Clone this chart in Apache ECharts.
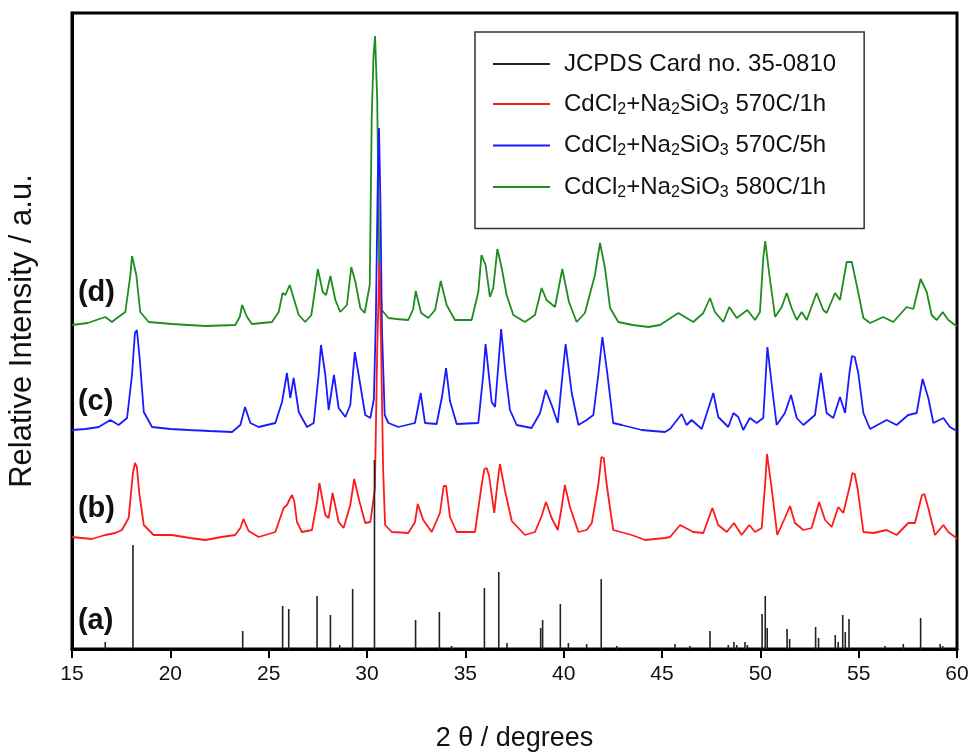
<!DOCTYPE html>
<html>
<head>
<meta charset="utf-8">
<script src="https://cdn.jsdelivr.net/npm/echarts@6/dist/echarts.min.js"></script>
<style>html,body{margin:0;padding:0;background:#fff}#c{width:972px;height:755px}</style>
</head>
<body>
<div id="c"></div>
<script>
// 2θ (degrees) vs relative intensity (arbitrary units, traces offset vertically)
const seriesNames = ['JCPDS Card no. 35-0810', 'CdCl2+Na2SiO3 570C/1h', 'CdCl2+Na2SiO3 570C/5h', 'CdCl2+Na2SiO3 580C/1h'];
const traceLabels = ['(a)', '(b)', '(c)', '(d)'];

// (a) JCPDS reference sticks [2θ, intensity]
const sticksA = [
  [16.69,7],[18.10,104],[23.68,18],[25.71,43],[26.02,40],[27.46,53],[28.14,34],[28.61,4],[29.27,60],
  [30.38,189],[32.47,29],[33.68,37],[34.30,3],[35.97,61],[36.70,77],[37.12,6],[38.83,21],[38.93,29],
  [39.83,45],[40.24,6],[41.17,5],[41.91,70],[42.70,3],[45.66,5],[46.42,3],[47.44,18],[48.37,4],
  [48.66,7],[48.80,4],[49.22,7],[49.34,4],[50.09,35],[50.25,53],[50.35,21],[51.36,20],[51.49,10],
  [52.81,22],[52.96,11],[53.81,14],[53.96,7],[54.19,34],[54.32,17],[54.51,30],[56.34,3],[57.27,5],
  [58.15,31],[59.14,5],[59.27,3]
];

// (b) 570C/1h
const traceB = [
  [15.0,112],[16.0,110],[16.69,114],[17.2,116],[17.54,119],[17.88,131],[18.02,160],[18.10,176],[18.20,186],[18.30,182],[18.42,156],[18.65,124],
  [19.15,114],[20.08,114],[21.0,111],[21.78,109],[22.6,112],[23.30,114],[23.56,121],[23.72,130],[23.82,130],[23.98,118],[24.49,112],
  [25.34,117],[25.76,141],[25.93,144],[26.05,149],[26.19,154],[26.30,148],[26.44,127],[26.69,117],[27.20,119],[27.46,147],[27.58,166],[27.66,168],[27.88,134],
  [28.05,131],[28.25,156],[28.34,158],[28.56,127],[28.81,121],[29.15,144],[29.35,170],[29.45,170],[29.61,148],[29.91,126],[30.17,127],[30.40,160],
  [30.52,300],[30.63,387],[30.72,300],[30.82,180],[30.92,124],[31.26,117],[32.10,116],[32.44,127],[32.58,145],[32.68,145],[32.86,129],
  [33.29,117],[33.71,136],[33.90,163],[34.02,163],[34.22,132],[34.56,117],[35.49,117],[35.83,164],[35.97,180],[36.08,181],[36.20,174],[36.47,136],
  [36.64,167],[36.76,185],[36.86,184],[37.02,158],[37.36,128],[38.03,114],[38.54,117],[38.88,133],[39.10,147],[39.39,131],[39.70,119],
  [39.90,142],[40.06,164],[40.16,164],[40.32,142],[40.75,117],[41.17,119],[41.43,126],[41.76,164],[41.92,192],[42.04,191],[42.19,164],[42.52,119],
  [43.46,114],[44.14,109],[45.15,111],[45.41,112],[45.92,124],[46.59,117],[47.10,116],[47.56,141],[47.86,124],[48.29,117],
  [48.66,126],[49.05,114],[49.44,124],[49.73,117],[50.07,121],[50.24,164],[50.34,195],[50.44,194],[50.58,160],[50.86,114],[51.25,131],
  [51.51,143],[51.76,126],[52.19,119],[52.61,121],[52.99,147],[53.29,129],[53.63,122],[53.96,142],[54.22,136],[54.56,164],
  [54.68,176],[54.80,175],[54.95,160],[55.24,117],[55.75,116],[56.42,119],[56.93,114],[57.52,126],[57.86,126],[58.22,154],[58.34,155],[58.54,141],
  [58.88,114],[59.31,124],[59.56,117],[59.90,112],[60.0,110]
];

// (c) 570C/5h
const traceC = [
  [15.0,219],[15.7,220],[16.36,222],[16.95,229],[17.37,224],[17.80,231],[18.05,274],[18.20,316],[18.30,319],[18.44,291],[18.65,237],
  [19.07,222],[20.0,220],[20.93,219],[22.0,218],[23.14,217],[23.56,224],[23.80,242],[23.90,242],[24.07,226],[24.49,222],[25.34,226],
  [25.68,247],[25.93,276],[26.10,251],[26.27,271],[26.53,237],[26.95,222],[27.29,226],[27.54,274],[27.66,304],[27.76,303],[27.88,274],
  [28.05,239],[28.32,274],[28.40,274],[28.56,241],[28.90,232],[29.15,244],[29.38,297],[29.48,297],[29.66,264],[29.91,234],[30.17,231],[30.35,250],
  [30.45,330],[30.55,470],[30.61,521],[30.68,450],[30.76,320],[30.90,234],[31.09,226],[31.60,222],[32.44,226],[32.73,256],
  [32.95,226],[33.54,225],[33.83,254],[34.02,281],[34.22,248],[34.56,225],[35.66,226],[35.91,274],[36.03,305],[36.12,306],[36.34,247],
  [36.51,242],[36.68,284],[36.82,320],[36.90,319],[37.05,274],[37.27,239],[37.61,224],[38.37,221],[38.80,236],[39.09,259],[39.39,244],
  [39.70,226],[39.94,274],[40.10,305],[40.20,305],[40.41,256],[40.75,224],[41.17,229],[41.51,234],[41.76,274],[41.97,312],[42.07,312],[42.23,274],
  [42.52,226],[42.95,224],[43.97,219],[45.15,217],[45.41,220],[46.00,235],[46.25,224],[46.51,229],[47.02,220],[47.61,256],
  [47.86,232],[48.37,222],[48.63,236],[48.88,232],[49.13,219],[49.47,231],[49.81,226],[50.15,231],[50.36,302],[50.46,302],[50.63,256],
  [50.83,224],[51.25,236],[51.56,254],[51.85,231],[52.19,224],[52.78,234],[53.08,276],[53.37,236],[53.71,231],[54.05,252],
  [54.31,236],[54.53,276],[54.66,293],[54.80,292],[54.98,276],[55.24,236],[55.58,220],[56.42,229],[56.93,224],[57.52,234],[57.95,236],
  [58.25,270],[58.34,270],[58.54,251],[58.80,226],[59.31,231],[59.64,222],[59.90,219],[60.0,218]
];

// (d) 580C/1h
const traceD = [
  [15.0,324],[15.8,326],[16.69,332],[17.03,327],[17.29,331],[17.71,337],[17.97,374],[18.05,393],[18.14,394],[18.27,374],[18.47,337],
  [18.90,327],[20.08,325],[21.78,323],[23.30,324],[23.53,332],[23.65,344],[23.74,344],[23.90,332],[24.15,325],[25.17,327],[25.51,337],
  [25.71,356],[25.85,354],[26.07,364],[26.27,351],[26.53,334],[26.86,327],[27.17,334],[27.37,361],[27.50,380],[27.58,379],[27.75,357],
  [27.92,354],[28.14,373],[28.24,372],[28.39,349],[28.64,337],[28.98,344],[29.20,382],[29.28,382],[29.41,367],[29.66,341],[29.88,336],[30.14,364],
  [30.24,532],[30.33,592],[30.41,613],[30.52,549],[30.62,382],[30.75,339],[31.09,331],[31.50,330],[32.10,329],[32.35,340],
  [32.48,358],[32.56,358],[32.75,336],[33.12,331],[33.46,339],[33.75,368],[33.85,368],[34.05,344],[34.47,329],[35.32,329],[35.66,357],[35.82,394],[35.92,394],
  [36.03,384],[36.25,352],[36.42,361],[36.63,400],[36.73,400],[36.85,381],[37.10,354],[37.44,334],[38.03,327],[38.54,334],[38.88,361],
  [39.13,349],[39.56,342],[39.93,380],[40.03,380],[40.27,347],[40.66,327],[41.08,336],[41.59,374],[41.85,406],[41.95,406],[42.10,381],[42.36,341],
  [42.78,327],[43.5,324],[44.31,322],[44.90,324],[45.83,336],[46.59,327],[47.10,336],[47.44,351],[47.69,337],[48.12,327],
  [48.42,342],[48.80,331],[49.34,339],[49.73,329],[49.98,337],[50.15,391],[50.25,408],[50.33,408],[50.46,374],[50.75,332],[51.09,342],
  [51.34,356],[51.59,341],[51.85,329],[52.10,337],[52.36,329],[52.86,356],[53.20,339],[53.37,336],[53.80,356],[54.05,349],
  [54.39,387],[54.65,387],[54.90,364],[55.24,331],[55.58,326],[56.25,332],[56.76,327],[57.44,342],[57.78,340],[58.15,370],[58.25,370],
  [58.46,357],[58.71,334],[58.97,329],[59.27,337],[59.56,329],[59.90,324],[60.0,323]
];

// label anchor values (left edge, intensity level) for (a)..(d)
const labelLevels = [[15.3, 28], [15.3, 140], [15.3, 247], [15.3, 356]];

const colors = ['#222222', '#ff1a1a', '#1a1aff', '#1e8c1e'];
const FONT = 'Liberation Sans, Arial, sans-serif';

function legendText(name) {
  if (name.indexOf('CdCl2') !== 0) return '{g| }{n|' + name + '}';
  const rest = name.replace('CdCl2+Na2SiO3', '');
  return '{g| }{n|CdCl}{s|2}{n|+Na}{s|2}{n|SiO}{s|3}{n|' + rest + '}';
}

const chart = echarts.init(document.getElementById('c'), null, {renderer: 'canvas'});

const lineSeries = (name, data, color, z) => ({
  name, type: 'line', data, symbol: 'none', showSymbol: false, z,
  lineStyle: {color, width: 1.8}, itemStyle: {color}, animation: false
});

chart.setOption({
  animation: false,
  backgroundColor: '#fff',
  grid: {left: 72, right: 15, top: 13, bottom: 106, outerBoundsMode: 'none', containLabel: false,
         show: true, borderColor: '#000', borderWidth: 3, backgroundColor: 'transparent'},
  xAxis: {
    type: 'value', min: 15, max: 60, interval: 5,
    name: '2 θ / degrees', nameLocation: 'middle', nameGap: 76,
    nameTextStyle: {fontFamily: FONT, fontSize: 27, color: '#111'},
    axisLine: {show: true, onZero: false, lineStyle: {color: '#000', width: 3}},
    axisTick: {show: true, inside: false, length: 9, lineStyle: {color: '#000', width: 2}},
    axisLabel: {fontFamily: FONT, fontSize: 21, color: '#111', margin: 15},
    splitLine: {show: false}
  },
  yAxis: {
    type: 'value', min: 0, max: 636,
    name: 'Relative Intensity / a.u.', nameLocation: 'middle', nameGap: 34, nameRotate: 90,
    nameTextStyle: {fontFamily: FONT, fontSize: 31, color: '#111'},
    axisLine: {show: true, lineStyle: {color: '#000', width: 3}},
    axisTick: {show: false}, axisLabel: {show: false}, splitLine: {show: false}
  },
  legend: {
    left: 475, top: 32, orient: 'vertical',
    data: seriesNames,
    icon: 'rect', itemWidth: 57, itemHeight: 2, itemGap: 16,
    padding: [20, 28, 28, 18],
    borderColor: '#333', borderWidth: 1.5, backgroundColor: '#fff',
    selectedMode: false,
    formatter: legendText,
    textStyle: {
      fontFamily: FONT, fontSize: 24, color: '#111',
      rich: {
        g: {width: 9, fontSize: 24},
        n: {fontFamily: FONT, fontSize: 24, color: '#111', lineHeight: 26},
        s: {fontFamily: FONT, fontSize: 16, color: '#111', padding: [11, 0, 0, 0]}
      }
    }
  },
  series: [
    {
      name: seriesNames[0], type: 'custom', data: sticksA, z: 5,
      itemStyle: {color: colors[0]},
      encode: {x: 0, y: 1},
      renderItem: function (params, api) {
        const p0 = api.coord([api.value(0), 0]);
        const p1 = api.coord([api.value(0), api.value(1)]);
        return {type: 'line', shape: {x1: p0[0], y1: p0[1], x2: p1[0], y2: p1[1]},
                style: {stroke: colors[0], lineWidth: 1.6}};
      }
    },
    lineSeries(seriesNames[3], traceD, colors[3], 2),
    lineSeries(seriesNames[2], traceC, colors[2], 3),
    lineSeries(seriesNames[1], traceB, colors[1], 4)
  ]
});

// place trace labels at the data levels using the chart's own scale
chart.setOption({
  graphic: traceLabels.map((t, i) => {
    const p = chart.convertToPixel({gridIndex: 0}, labelLevels[i]);
    return {type: 'text', z: 50, left: p[0], top: p[1] - 15,
      style: {text: t, fontFamily: FONT, fontSize: 29, fontWeight: 'bold', fill: '#111'}};
  })
});
</script>
</body>
</html>
